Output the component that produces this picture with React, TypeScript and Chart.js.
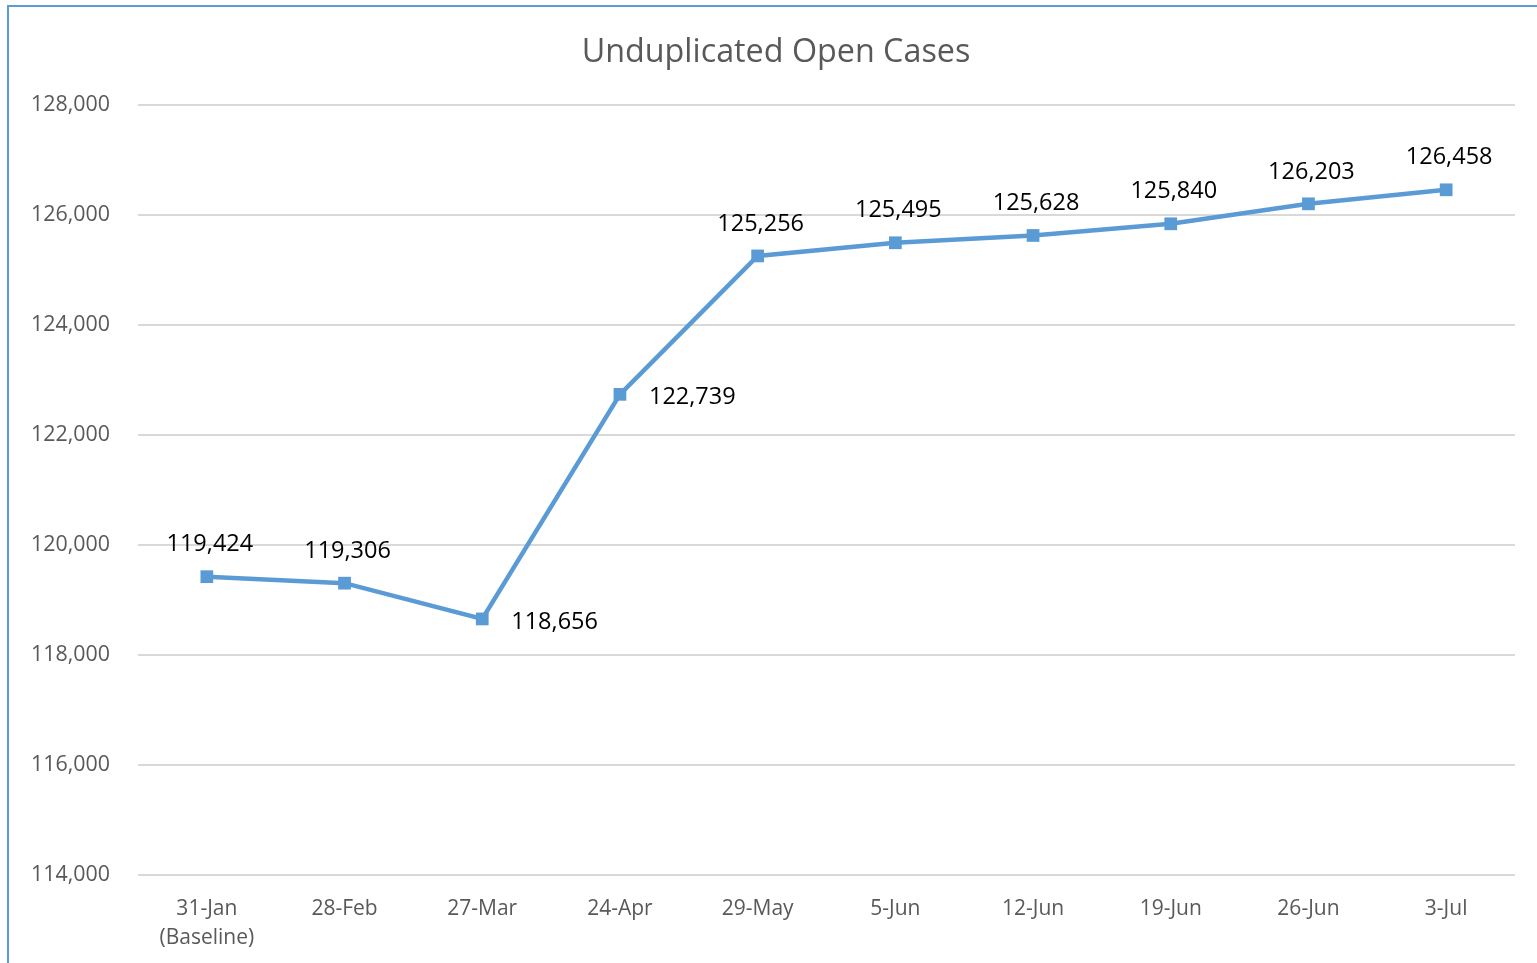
import React, { useEffect, useRef } from "react";
import { Chart, registerables } from "chart.js";

Chart.register(...registerables);

const TITLE = "Unduplicated Open Cases";
const CATEGORIES: (string | string[])[] = [
  ["31-Jan", "(Baseline)"],
  "28-Feb",
  "27-Mar",
  "24-Apr",
  "29-May",
  "5-Jun",
  "12-Jun",
  "19-Jun",
  "26-Jun",
  "3-Jul",
];
const OPEN_CASES = [119424, 119306, 118656, 122739, 125256, 125495, 125628, 125840, 126203, 126458];
const Y_MIN = 114000;
const Y_MAX = 128000;
const Y_STEP = 2000;
const RIGHT_LABEL_INDICES = [2, 3];

const FONT = "'Open Sans', 'Noto Sans', sans-serif";
const W = 1537;
const H = 963;

const fmt = (v: number) => v.toLocaleString("en-US");

const labelPlugin = {
  id: "pointLabels",
  afterDatasetsDraw(chart: any) {
    const ctx = chart.ctx;
    const meta = chart.getDatasetMeta(0);
    ctx.save();
    ctx.font = `23.5px ${FONT}`;
    ctx.fillStyle = "#000000";
    meta.data.forEach((pt: any, i: number) => {
      const txt = fmt(OPEN_CASES[i]);
      ctx.textBaseline = "middle";
      if (RIGHT_LABEL_INDICES.includes(i)) {
        ctx.textAlign = "left";
        ctx.fillText(txt, pt.x + 29, pt.y + 3);
      } else {
        ctx.textAlign = "center";
        ctx.fillText(txt, pt.x + 3, pt.y - 32);
      }
    });
    ctx.restore();
  },
};

const titlePlugin = {
  id: "customTitle",
  afterDraw(chart: any) {
    const ctx = chart.ctx;
    ctx.save();
    ctx.font = `32.3px ${FONT}`;
    ctx.fillStyle = "#595959";
    ctx.textAlign = "center";
    ctx.textBaseline = "middle";
    ctx.fillText(TITLE, 776, 53);
    ctx.restore();
  },
};

export default function App() {
  const ref = useRef<HTMLCanvasElement | null>(null);

  useEffect(() => {
    document.documentElement.style.overflow = "hidden";
    document.body.style.overflow = "hidden";
    if (!ref.current) return;
    const chart = new Chart(ref.current, {
      type: "line",
      data: {
        labels: CATEGORIES,
        datasets: [
          {
            data: OPEN_CASES,
            borderColor: "#5b9bd5",
            backgroundColor: "#5b9bd5",
            borderWidth: 4.5,
            pointStyle: "rect",
            pointRadius: 9,
            pointBorderWidth: 0,
            pointBackgroundColor: "#5b9bd5",
            tension: 0,
          },
        ],
      },
      options: {
        responsive: false,
        animation: false,
        layout: { padding: { left: 0, right: 22, top: 105, bottom: 0 } },
        plugins: {
          legend: { display: false },
          title: { display: false },
          tooltip: { enabled: false },
        },
        scales: {
          x: {
            offset: true,
            grid: { display: false, drawTicks: false },
            border: { display: false },
            ticks: {
              color: "#595959",
              font: { family: FONT, size: 21, lineHeight: 1.38 },
              padding: 20,
              maxRotation: 0,
              autoSkip: false,
            },
            afterFit: (s: any) => {
              s.height = H - 875;
            },
          },
          y: {
            min: Y_MIN,
            max: Y_MAX,
            grid: { color: "#d9d9d9", lineWidth: 2, drawTicks: false },
            border: { display: false },
            ticks: {
              stepSize: Y_STEP,
              color: "#595959",
              font: { family: FONT, size: 21.4 },
              padding: 28,
              callback: (v: any) => fmt(Number(v)),
            },
            afterFit: (s: any) => {
              s.width = 138;
            },
          },
        },
      },
      plugins: [labelPlugin, titlePlugin],
    });
    return () => chart.destroy();
  }, []);

  return (
    <div style={{ position: "fixed", left: 0, top: 0, width: W, height: H, overflow: "hidden", background: "#fff" }}>
      <div
        style={{
          position: "absolute",
          left: 7,
          top: 5,
          width: 1700,
          height: 1100,
          borderLeft: "2px solid #5b9bd5",
          borderTop: "2px solid #5b9bd5",
        }}
      />
      <canvas ref={ref} width={W} height={H} style={{ position: "absolute", left: 0, top: 0, width: W, height: H }} />
    </div>
  );
}
